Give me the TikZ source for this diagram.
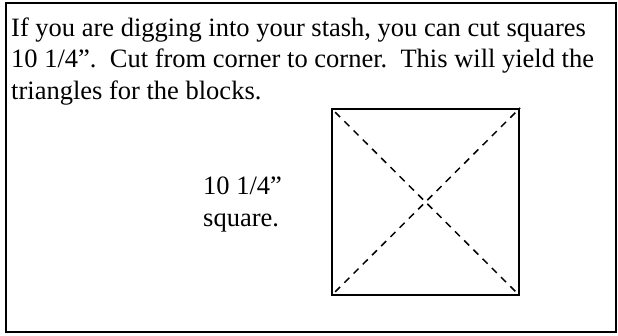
\documentclass[tikz,border=0pt]{standalone}
\usepackage{fontspec}
\setmainfont{Liberation Serif}
\tikzset{
  bodytext/.style={anchor=base west,inner sep=0pt,font=\fontsize{26.5}{31.5}\selectfont},
  sqbox/.style={draw,line width=2.2pt,minimum width=187pt,minimum height=186pt,inner sep=0pt},
  cutline/.style={line width=1.5pt,dash pattern=on 7pt off 6pt}
}
\begin{document}
\begin{tikzpicture}[x=1pt,y=1pt]

\useasboundingbox (0,0) rectangle (618,335);
\draw[line width=2.4pt] (6,3) rectangle (616,332);

\node[bodytext] (line1) at (11,298) {If you are digging into your stash, you can cut squares};
\node[bodytext] (line2) at (11,267) {10 1/4”.\ \ Cut from corner to corner.\ \ This will yield the};
\node[bodytext] (line3) at (11,235) {triangles for the blocks.};

\node[bodytext] (size1) at (203,140) {10 1/4”};
\node[bodytext] (size2) at (203,109) {square.};

\node[sqbox] (sq) at (425.5,133) {};
\draw[cutline,shorten <=6pt,shorten >=6pt] (sq.north west) -- (sq.south east);
\draw[cutline,shorten <=6pt] (sq.south west) -- (sq.north east);

\end{tikzpicture}
\end{document}
